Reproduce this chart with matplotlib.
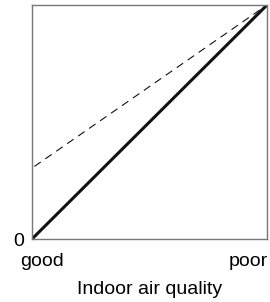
import matplotlib
matplotlib.use("Agg")
import matplotlib.pyplot as plt
import matplotlib.transforms as mtrans

plt.rcParams['font.family'] = ['Liberation Sans', 'DejaVu Sans']

x_pos = [0, 1]
solid_y = [0, 1]
dashed_x = [0.01, 1]
dashed_y = [0.31, 1]
x_labels = ["good", "poor"]
y_labels = ["0"]
xlabel = "Indoor air quality"

fig = plt.figure(figsize=(2.70, 3.02), dpi=100)
ax = fig.add_axes([32/270, 1-239/302, 235/270, 234/302])
ax.plot(x_pos, solid_y, color='#111111', lw=2.2, solid_capstyle='butt')
ax.plot(dashed_x, dashed_y, color='#111111', lw=0.8, dashes=(7, 5))
ax.set_xlim(0, 1)
ax.set_ylim(0, 1)
for s in ax.spines.values():
    s.set_color('#777777')
    s.set_linewidth(1.0)
ax.set_xticks([])
trans = ax.get_xaxis_transform()
offsets = [-12, 1]
aligns = ['left', 'right']
for xp, lab, off, ha in zip(x_pos, x_labels, offsets, aligns):
    t = trans + mtrans.ScaledTranslation(off/100, -14/100, fig.dpi_scale_trans)
    ax.text(xp, 0, lab, transform=t, ha=ha, va='top', fontsize=14)
ax.set_yticks([0])
ax.set_yticklabels(y_labels, fontsize=14)
ax.tick_params(length=0)
ax.tick_params(axis='y', pad=6)
ax.set_xlabel(xlabel, fontsize=14, labelpad=30)
fig.savefig("out.png", dpi=100)
